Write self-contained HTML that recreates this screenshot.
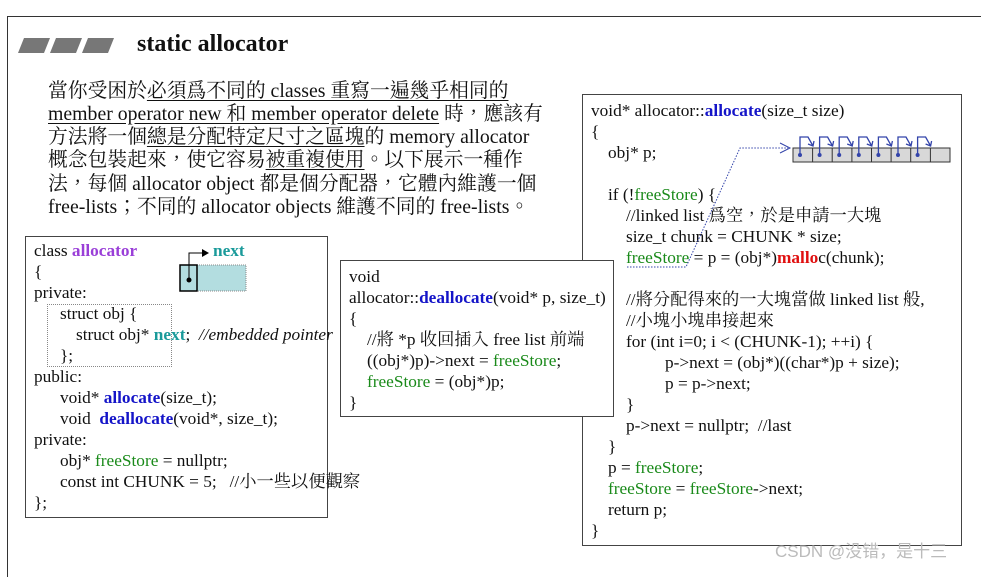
<!DOCTYPE html>
<html><head><meta charset="utf-8"><style>
body{margin:0;width:981px;height:569px;background:#fff;position:relative;overflow:hidden;font-family:"Liberation Serif","Noto Serif CJK TC",serif;color:#111}
.l{position:absolute;white-space:nowrap;font-size:17.3px;line-height:21px}
.t{position:absolute;white-space:nowrap;font-size:19.8px;line-height:23px}
.box{position:absolute;border:1.5px solid #444;background:#fff}
.b{color:#1414c8;font-weight:bold}
.g{color:#1a8a1a}
.p{color:#9a3fd8;font-weight:bold}
.c{color:#1a9a9a;font-weight:bold}
.r{color:#e01010;font-weight:bold}
u{text-decoration:underline;text-underline-offset:3px}
</style></head><body>
<div style="position:absolute;left:7px;top:16px;width:974px;height:560px;border-left:1.5px solid #333;border-top:1.5px solid #333"></div>
<svg style="position:absolute;left:0;top:0" width="981" height="569">
<polygon points="24,38 50,38 44,53 18,53" fill="#777"/>
<polygon points="56,38 82,38 76,53 50,53" fill="#777"/>
<polygon points="88,38 114,38 108,53 82,53" fill="#777"/>
</svg>
<div style="position:absolute;left:137px;top:29px;font-size:24px;font-weight:bold;line-height:30px">static allocator</div>
<div class="t" style="left:48px;top:80px">當你受困於<u>必須爲不同的 classes 重寫一遍幾乎相同的</u></div>
<div class="t" style="left:48px;top:103px"><u>member operator new 和 member operator delete</u> 時，應該有</div>
<div class="t" style="left:48px;top:126px">方法將一個<u>總是分配特定尺寸之區塊</u>的 memory allocator</div>
<div class="t" style="left:48px;top:149px">概念包裝起來，使它容易<u>被重複使用</u>。以下展示一種作</div>
<div class="t" style="left:48px;top:173px">法，每個 allocator object 都是個分配器，它體內維護一個</div>
<div class="t" style="left:48px;top:196px">free-lists；不同的 allocator objects 維護不同的 free-lists。</div>

<div class="box" style="left:25px;top:236px;width:301px;height:280px"></div>
<div style="position:absolute;left:47px;top:304px;width:123px;height:61px;border:1px dotted #888"></div>
<svg style="position:absolute;left:170px;top:240px" width="90" height="60">
<rect x="27" y="25" width="49" height="26" fill="#b3dde0" stroke="#888" stroke-dasharray="1,1"/>
<rect x="10" y="25" width="17" height="26" fill="#b3dde0" stroke="#000" stroke-width="1.5"/>
<circle cx="19" cy="40" r="2.5" fill="#000"/>
<path d="M19 40 V13 H32" stroke="#000" fill="none"/>
<polygon points="32,9 39,13 32,17" fill="#000"/>
</svg>
<div class="l c" style="left:213px;top:240px">next</div>
<div class="l" style="left:34px;top:240px">class <span class="p">allocator</span></div>
<div class="l" style="left:34px;top:261px">{</div>
<div class="l" style="left:34px;top:282px">private:</div>
<div class="l" style="left:60px;top:303px">struct obj {</div>
<div class="l" style="left:76px;top:324px">struct obj* <span class="c">next</span>;&nbsp; <i>//embedded pointer</i></div>
<div class="l" style="left:60px;top:345px">};</div>
<div class="l" style="left:34px;top:366px">public:</div>
<div class="l" style="left:60px;top:387px">void* <span class="b">allocate</span>(size_t);</div>
<div class="l" style="left:60px;top:408px">void&nbsp; <span class="b">deallocate</span>(void*, size_t);</div>
<div class="l" style="left:34px;top:429px">private:</div>
<div class="l" style="left:60px;top:450px">obj* <span class="g">freeStore</span> = nullptr;</div>
<div class="l" style="left:60px;top:471px">const int CHUNK = 5;&nbsp;&nbsp; //小一些以便觀察</div>
<div class="l" style="left:34px;top:492px">};</div>

<div class="box" style="left:582px;top:94px;width:378px;height:450px"></div>
<div class="l" style="left:591px;top:100px">void* allocator::<span class="b">allocate</span>(size_t size)</div>
<div class="l" style="left:591px;top:121px">{</div>
<div class="l" style="left:608px;top:142px">obj* p;</div>
<div class="l" style="left:608px;top:184px">if (!<span class="g">freeStore</span>) {</div>
<div class="l" style="left:626px;top:205px">//linked list 爲空，於是申請一大塊</div>
<div class="l" style="left:626px;top:226px">size_t chunk = CHUNK * size;</div>
<div class="l" style="left:626px;top:247px"><span class="g">freeStore</span> = p = (obj*)<span class="r">mallo</span>c(chunk);</div>
<div class="l" style="left:626px;top:289px">//將分配得來的一大塊當做 linked list 般,</div>
<div class="l" style="left:626px;top:310px">//小塊小塊串接起來</div>
<div class="l" style="left:626px;top:331px">for (int i=0; i &lt; (CHUNK-1); ++i) {</div>
<div class="l" style="left:665px;top:352px">p-&gt;next = (obj*)((char*)p + size);</div>
<div class="l" style="left:665px;top:373px">p = p-&gt;next;</div>
<div class="l" style="left:626px;top:394px">}</div>
<div class="l" style="left:626px;top:415px">p-&gt;next = nullptr;&nbsp; //last</div>
<div class="l" style="left:608px;top:436px">}</div>
<div class="l" style="left:608px;top:457px">p = <span class="g">freeStore</span>;</div>
<div class="l" style="left:608px;top:478px"><span class="g">freeStore</span> = <span class="g">freeStore</span>-&gt;next;</div>
<div class="l" style="left:608px;top:499px">return p;</div>
<div class="l" style="left:591px;top:520px">}</div>
<svg style="position:absolute;left:0;top:0" width="981" height="569">
<path d="M627 267 H686 L740 148 H788" stroke="#3344aa" stroke-dasharray="1.5,1.5" fill="none"/>
<path d="M780 143 L790 148 L780 153" stroke="#3344aa" fill="none"/>
<rect x="793" y="148" width="157" height="14" fill="#d8d8d8" stroke="#333"/>
<g stroke="#333">
<line x1="812.6" y1="148" x2="812.6" y2="162"/><line x1="832.2" y1="148" x2="832.2" y2="162"/><line x1="851.9" y1="148" x2="851.9" y2="162"/><line x1="871.5" y1="148" x2="871.5" y2="162"/><line x1="891.1" y1="148" x2="891.1" y2="162"/><line x1="910.7" y1="148" x2="910.7" y2="162"/><line x1="930.4" y1="148" x2="930.4" y2="162"/></g>
<g stroke="#3344aa" fill="none" stroke-width="1.3">
<path d="M800 155 V137 H808 L813 146 M808 144 L813 146 L814 141"/>
<path d="M819.6 155 V137 H827.6 L832.6 146 M827.6 144 L832.6 146 L833.6 141"/>
<path d="M839.2 155 V137 H847.2 L852.2 146 M847.2 144 L852.2 146 L853.2 141"/>
<path d="M858.8 155 V137 H866.8 L871.8 146 M866.8 144 L871.8 146 L872.8 141"/>
<path d="M878.4 155 V137 H886.4 L891.4 146 M886.4 144 L891.4 146 L892.4 141"/>
<path d="M898 155 V137 H906 L911 146 M906 144 L911 146 L912 141"/>
<path d="M917.6 155 V137 H925.6 L930.6 146 M925.6 144 L930.6 146 L931.6 141"/>
</g>
<g fill="#3344aa"><circle cx="800" cy="155" r="2"/><circle cx="819.6" cy="155" r="2"/><circle cx="839.2" cy="155" r="2"/><circle cx="858.8" cy="155" r="2"/><circle cx="878.4" cy="155" r="2"/><circle cx="898" cy="155" r="2"/><circle cx="917.6" cy="155" r="2"/></g>
</svg>

<div class="box" style="left:340px;top:260px;width:272px;height:155px"></div>
<div class="l" style="left:349px;top:266px">void</div>
<div class="l" style="left:349px;top:287px">allocator::<span class="b">deallocate</span>(void* p, size_t)</div>
<div class="l" style="left:349px;top:308px">{</div>
<div class="l" style="left:367px;top:329px">//將 *p 收回插入 free list 前端</div>
<div class="l" style="left:367px;top:350px">((obj*)p)-&gt;next = <span class="g">freeStore</span>;</div>
<div class="l" style="left:367px;top:371px"><span class="g">freeStore</span> = (obj*)p;</div>
<div class="l" style="left:349px;top:392px">}</div>

<div style="position:absolute;left:775px;top:537px;font-family:'Liberation Sans','Noto Sans CJK SC',sans-serif;font-size:17px;color:#bbb;white-space:nowrap">CSDN @没错，是十三</div>
</body></html>
